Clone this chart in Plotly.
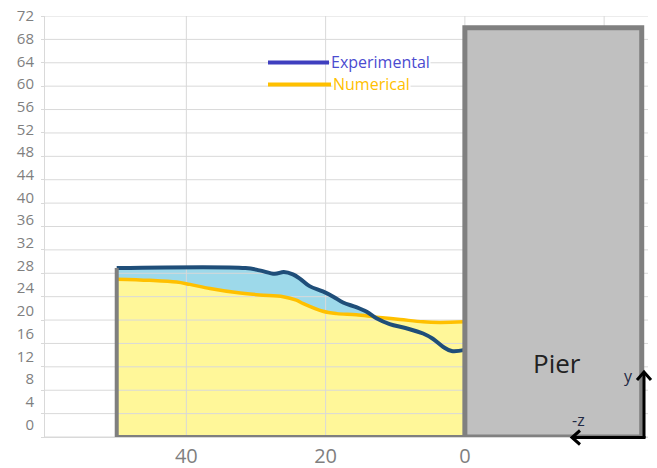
import plotly.graph_objects as go

# Bed profile upstream of the pier: distance from pier face vs bed level
exp_x = [50, 31.5, 29.5, 27.3, 26.0, 24.7, 23.7, 22.3, 20.4, 18.9, 17.5, 15.6,
         14.1, 12.7, 10.8, 8.4, 6.0, 4.6, 3.1, 1.9, 0]
exp_y = [28.9, 28.9, 28.5, 27.9, 28.2, 27.8, 27.1, 25.8, 24.9, 24.0, 23.0, 22.2,
         21.4, 20.3, 19.3, 18.6, 17.7, 16.8, 15.4, 14.7, 14.9]

num_x = [50, 45.3, 41.4, 39.5, 36.6, 32.8, 29.5, 26.1, 24.2, 23.2, 20.4, 18.4,
         15.6, 12.7, 9.3, 6.0, 3.6, 0]
num_y = [27.0, 26.8, 26.5, 26.1, 25.4, 24.7, 24.3, 24.0, 23.4, 22.8, 21.5, 21.1,
         20.9, 20.5, 20.1, 19.7, 19.6, 19.7]

y_ticks = list(range(0, 73, 4))
x_grid = [40, 20, 0, -20]
x_ticktext = ["40", "20", "0", ""]

pier_width = 25.4
pier_height = 70

X_RANGE = [60.3, -26.3]
Y_RANGE = [0, 72]
W, H = 657, 468
M = dict(l=45, r=9, t=16, b=31)
PW = W - M["l"] - M["r"]
PH = H - M["t"] - M["b"]


def px(x):
    """pixel x -> paper x"""
    return (x - M["l"]) / PW


def py(y):
    """pixel y -> paper y"""
    return (H - M["b"] - y) / PH


fig = go.Figure()

# light-blue band: area under the experimental profile (covered below by numerical fill)
fig.add_trace(go.Scatter(
    x=exp_x, y=exp_y, mode="lines", line=dict(width=0, shape="spline"),
    fill="tozeroy", fillcolor="#9dd9ea", hoverinfo="skip", showlegend=False))

# yellow area under the numerical profile
fig.add_trace(go.Scatter(
    x=num_x, y=num_y, mode="lines", line=dict(width=0, shape="spline"),
    fill="tozeroy", fillcolor="#fff799", hoverinfo="skip", showlegend=False))

# gridlines drawn over the fills
gx, gy = [], []
for v in y_ticks:
    gx += [X_RANGE[0], X_RANGE[1], None]
    gy += [v, v, None]
for v in x_grid:
    gx += [v, v, None]
    gy += [Y_RANGE[0], Y_RANGE[1], None]
fig.add_trace(go.Scatter(
    x=gx, y=gy, mode="lines", line=dict(color="#d9d9d9", width=1),
    hoverinfo="skip", showlegend=False))

# profile lines
fig.add_trace(go.Scatter(
    x=num_x, y=num_y, mode="lines", name="Numerical",
    line=dict(color="#ffc000", width=3.5, shape="spline"), showlegend=False))
fig.add_trace(go.Scatter(
    x=exp_x, y=exp_y, mode="lines", name="Experimental",
    line=dict(color="#1f4e79", width=4, shape="spline"), showlegend=False))

# outline of the bed section
fig.add_trace(go.Scatter(
    x=[exp_x[0], exp_x[0], 0], y=[exp_y[0], 0, 0], mode="lines",
    line=dict(color="#7f7f7f", width=4), hoverinfo="skip", showlegend=False))

# tick-label carrier on the secondary axis
fig.add_trace(go.Scatter(x=[None], y=[None], yaxis="y2", showlegend=False,
                         hoverinfo="skip"))

shapes = [
    dict(type="rect", xref="x", yref="y", x0=0, x1=-pier_width, y0=0, y1=pier_height,
         fillcolor="#c0c0c0", line=dict(color="#808080", width=5), layer="above"),
    # legend keys
    dict(type="line", xref="paper", yref="paper", x0=px(268), x1=px(329),
         y0=py(62.5), y1=py(62.5), line=dict(color="#3f3fbf", width=4)),
    dict(type="line", xref="paper", yref="paper", x0=px(268), x1=px(331),
         y0=py(84.5), y1=py(84.5), line=dict(color="#ffc000", width=4)),
    # coordinate arrows
    dict(type="path", xref="paper", yref="paper",
         path=f"M {px(644)},{py(438)} L {px(644)},{py(372)}",
         line=dict(color="black", width=3)),
    dict(type="path", xref="paper", yref="paper",
         path=f"M {px(637)},{py(380)} L {px(644)},{py(372)} L {px(651)},{py(380)}",
         line=dict(color="black", width=3)),
    dict(type="path", xref="paper", yref="paper",
         path=f"M {px(645.5)},{py(437.5)} L {px(572)},{py(437.5)}",
         line=dict(color="black", width=3)),
    dict(type="path", xref="paper", yref="paper",
         path=f"M {px(580)},{py(430.5)} L {px(572)},{py(437.5)} L {px(580)},{py(444.5)}",
         line=dict(color="black", width=3)),
]

annotations = [
    dict(x=px(330), y=py(62), xref="paper", yref="paper", text="Experimental",
         showarrow=False, xanchor="left", yanchor="middle", bgcolor="white",
         borderpad=0, font=dict(family="Open Sans", size=16, color="#4b4bd0")),
    dict(x=px(332), y=py(84), xref="paper", yref="paper", text="Numerical",
         showarrow=False, xanchor="left", yanchor="middle", bgcolor="white",
         borderpad=0, font=dict(family="Open Sans", size=16, color="#ffc000")),
    dict(x=px(557), y=py(363), xref="paper", yref="paper", text="Pier",
         showarrow=False, xanchor="center", yanchor="middle",
         font=dict(family="Open Sans", size=26, color="#222222")),
    dict(x=px(628), y=py(376), xref="paper", yref="paper", text="y",
         showarrow=False, xanchor="center", yanchor="middle",
         font=dict(family="Open Sans", size=16, color="#1f2a44")),
    dict(x=px(578), y=py(420), xref="paper", yref="paper", text="-z",
         showarrow=False, xanchor="center", yanchor="middle",
         font=dict(family="Open Sans", size=16, color="#1f2a44")),
]

fig.update_layout(
    width=W, height=H, margin=dict(M, autoexpand=False),
    paper_bgcolor="white", plot_bgcolor="white",
    showlegend=False,
    font=dict(family="Open Sans", color="#7f7f7f"),
    xaxis=dict(range=X_RANGE, tickvals=x_grid, ticktext=x_ticktext, automargin=False,
               showgrid=False, zeroline=False, showline=True, linecolor="#d9d9d9",
               linewidth=1, ticks="", ticklabelstandoff=1,
               tickfont=dict(family="Open Sans", size=20, color="#7f7f7f")),
    yaxis=dict(range=Y_RANGE, tickvals=y_ticks, showticklabels=False, automargin=False,
               showgrid=False, zeroline=False, showline=True, linecolor="#d9d9d9",
               ticks="outside", ticklen=3, tickcolor="#d9d9d9"),
    yaxis2=dict(overlaying="y", side="left", range=[-2.24, 72.02], automargin=False,
                tickvals=y_ticks, showgrid=False, zeroline=False, showline=False,
                ticks="", ticklabelstandoff=10,
                tickfont=dict(family="Open Sans", size=15, color="#7f7f7f")),
    shapes=shapes, annotations=annotations,
)

fig.write_html("out.html")
